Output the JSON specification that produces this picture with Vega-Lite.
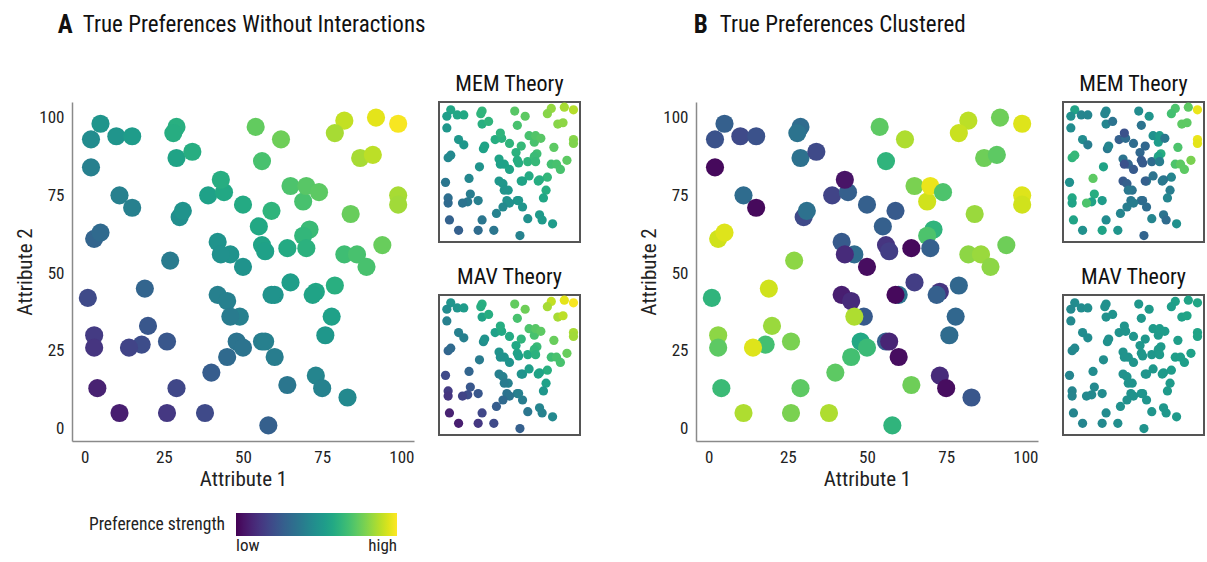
{
  "$schema": "https://vega.github.io/schema/vega-lite/v6.json",
  "background": "white",
  "padding": {"left": 14, "top": 13, "right": 0, "bottom": 0},
  "data": {"values": [
    {"x":5,"y":98,"a":0.52,"b":0.30,"ma":0.59,"va":0.52,"mb":0.58,"vb":0.48},
    {"x":2,"y":93,"a":0.48,"b":0.25,"ma":0.56,"va":0.48,"mb":0.50,"vb":0.47},
    {"x":10,"y":94,"a":0.52,"b":0.22,"ma":0.59,"va":0.52,"mb":0.45,"vb":0.48},
    {"x":15,"y":94,"a":0.55,"b":0.25,"ma":0.60,"va":0.55,"mb":0.45,"vb":0.49},
    {"x":2,"y":84,"a":0.43,"b":0.02,"ma":0.53,"va":0.43,"mb":0.48,"vb":0.47},
    {"x":29,"y":97,"a":0.63,"b":0.35,"ma":0.66,"va":0.63,"mb":0.47,"vb":0.50},
    {"x":28,"y":95,"a":0.62,"b":0.38,"ma":0.65,"va":0.62,"mb":0.45,"vb":0.50},
    {"x":29,"y":87,"a":0.58,"b":0.37,"ma":0.63,"va":0.58,"mb":0.45,"vb":0.50},
    {"x":34,"y":89,"a":0.62,"b":0.22,"ma":0.65,"va":0.62,"mb":0.38,"vb":0.51},
    {"x":54,"y":97,"a":0.76,"b":0.75,"ma":0.74,"va":0.76,"mb":0.48,"vb":0.53},
    {"x":62,"y":93,"a":0.78,"b":0.88,"ma":0.75,"va":0.78,"mb":0.52,"vb":0.54},
    {"x":56,"y":86,"a":0.71,"b":0.65,"ma":0.71,"va":0.71,"mb":0.38,"vb":0.53},
    {"x":82,"y":99,"a":0.91,"b":0.90,"ma":0.84,"va":0.91,"mb":0.72,"vb":0.57},
    {"x":79,"y":95,"a":0.87,"b":0.92,"ma":0.82,"va":0.87,"mb":0.70,"vb":0.56},
    {"x":92,"y":100,"a":0.96,"b":0.78,"ma":0.87,"va":0.96,"mb":0.75,"vb":0.58},
    {"x":99,"y":98,"a":0.99,"b":0.95,"ma":0.89,"va":0.99,"mb":0.97,"vb":0.59},
    {"x":87,"y":87,"a":0.87,"b":0.78,"ma":0.82,"va":0.87,"mb":0.75,"vb":0.57},
    {"x":91,"y":88,"a":0.90,"b":0.75,"ma":0.83,"va":0.90,"mb":0.75,"vb":0.58},
    {"x":99,"y":75,"a":0.87,"b":0.95,"ma":0.82,"va":0.87,"mb":0.97,"vb":0.58},
    {"x":99,"y":72,"a":0.86,"b":0.93,"ma":0.81,"va":0.86,"mb":0.96,"vb":0.58},
    {"x":84,"y":69,"a":0.77,"b":0.85,"ma":0.75,"va":0.77,"mb":0.72,"vb":0.56},
    {"x":94,"y":59,"a":0.77,"b":0.78,"ma":0.75,"va":0.77,"mb":0.80,"vb":0.57},
    {"x":82,"y":56,"a":0.69,"b":0.83,"ma":0.70,"va":0.69,"mb":0.72,"vb":0.56},
    {"x":86,"y":56,"a":0.71,"b":0.85,"ma":0.71,"va":0.71,"mb":0.75,"vb":0.56},
    {"x":89,"y":52,"a":0.71,"b":0.83,"ma":0.71,"va":0.71,"mb":0.75,"vb":0.56},
    {"x":79,"y":46,"a":0.63,"b":0.33,"ma":0.66,"va":0.63,"mb":0.45,"vb":0.55},
    {"x":78,"y":36,"a":0.57,"b":0.33,"ma":0.62,"va":0.57,"mb":0.42,"vb":0.54},
    {"x":76,"y":30,"a":0.53,"b":0.35,"ma":0.59,"va":0.53,"mb":0.45,"vb":0.54},
    {"x":73,"y":44,"a":0.59,"b":0.15,"ma":0.63,"va":0.59,"mb":0.38,"vb":0.54},
    {"x":72,"y":43,"a":0.58,"b":0.30,"ma":0.62,"va":0.58,"mb":0.40,"vb":0.54},
    {"x":73,"y":17,"a":0.45,"b":0.12,"ma":0.54,"va":0.45,"mb":0.38,"vb":0.53},
    {"x":75,"y":13,"a":0.44,"b":0.03,"ma":0.54,"va":0.44,"mb":0.35,"vb":0.53},
    {"x":83,"y":10,"a":0.47,"b":0.27,"ma":0.55,"va":0.47,"mb":0.50,"vb":0.54},
    {"x":64,"y":14,"a":0.39,"b":0.78,"ma":0.50,"va":0.39,"mb":0.45,"vb":0.52},
    {"x":58,"y":1,"a":0.30,"b":0.65,"ma":0.44,"va":0.30,"mb":0.32,"vb":0.51},
    {"x":60,"y":23,"a":0.42,"b":0.03,"ma":0.52,"va":0.42,"mb":0.35,"vb":0.52},
    {"x":56,"y":28,"a":0.42,"b":0.30,"ma":0.52,"va":0.42,"mb":0.40,"vb":0.52},
    {"x":57,"y":28,"a":0.43,"b":0.10,"ma":0.53,"va":0.43,"mb":0.35,"vb":0.52},
    {"x":48,"y":28,"a":0.38,"b":0.60,"ma":0.50,"va":0.38,"mb":0.40,"vb":0.51},
    {"x":50,"y":26,"a":0.38,"b":0.68,"ma":0.50,"va":0.38,"mb":0.42,"vb":0.51},
    {"x":45,"y":23,"a":0.34,"b":0.70,"ma":0.47,"va":0.34,"mb":0.42,"vb":0.50},
    {"x":40,"y":18,"a":0.29,"b":0.75,"ma":0.44,"va":0.29,"mb":0.45,"vb":0.50},
    {"x":38,"y":5,"a":0.22,"b":0.88,"ma":0.39,"va":0.22,"mb":0.52,"vb":0.49},
    {"x":26,"y":5,"a":0.16,"b":0.80,"ma":0.35,"va":0.16,"mb":0.58,"vb":0.47},
    {"x":29,"y":13,"a":0.21,"b":0.75,"ma":0.39,"va":0.21,"mb":0.48,"vb":0.48},
    {"x":26,"y":28,"a":0.27,"b":0.80,"ma":0.43,"va":0.27,"mb":0.55,"vb":0.48},
    {"x":20,"y":33,"a":0.27,"b":0.85,"ma":0.42,"va":0.27,"mb":0.62,"vb":0.47},
    {"x":18,"y":27,"a":0.23,"b":0.70,"ma":0.40,"va":0.23,"mb":0.58,"vb":0.47},
    {"x":14,"y":26,"a":0.20,"b":0.95,"ma":0.38,"va":0.20,"mb":0.72,"vb":0.47},
    {"x":19,"y":45,"a":0.32,"b":0.93,"ma":0.46,"va":0.32,"mb":0.75,"vb":0.48},
    {"x":1,"y":42,"a":0.22,"b":0.65,"ma":0.39,"va":0.22,"mb":0.50,"vb":0.45},
    {"x":3,"y":30,"a":0.17,"b":0.83,"ma":0.36,"va":0.17,"mb":0.60,"vb":0.45},
    {"x":3,"y":26,"a":0.15,"b":0.75,"ma":0.34,"va":0.15,"mb":0.58,"vb":0.45},
    {"x":4,"y":13,"a":0.09,"b":0.68,"ma":0.31,"va":0.09,"mb":0.58,"vb":0.45},
    {"x":11,"y":5,"a":0.08,"b":0.88,"ma":0.30,"va":0.08,"mb":0.50,"vb":0.45},
    {"x":27,"y":54,"a":0.41,"b":0.83,"ma":0.51,"va":0.41,"mb":0.58,"vb":0.49},
    {"x":3,"y":61,"a":0.32,"b":0.93,"ma":0.46,"va":0.32,"mb":0.65,"vb":0.46},
    {"x":5,"y":63,"a":0.34,"b":0.95,"ma":0.47,"va":0.34,"mb":0.67,"vb":0.47},
    {"x":11,"y":75,"a":0.43,"b":0.35,"ma":0.53,"va":0.43,"mb":0.48,"vb":0.48},
    {"x":15,"y":71,"a":0.43,"b":0.02,"ma":0.53,"va":0.43,"mb":0.42,"vb":0.48},
    {"x":30,"y":68,"a":0.49,"b":0.22,"ma":0.57,"va":0.49,"mb":0.40,"vb":0.50},
    {"x":31,"y":70,"a":0.51,"b":0.37,"ma":0.58,"va":0.51,"mb":0.45,"vb":0.50},
    {"x":39,"y":75,"a":0.57,"b":0.20,"ma":0.62,"va":0.57,"mb":0.30,"vb":0.51},
    {"x":44,"y":76,"a":0.60,"b":0.30,"ma":0.64,"va":0.60,"mb":0.35,"vb":0.52},
    {"x":43,"y":80,"a":0.62,"b":0.05,"ma":0.65,"va":0.62,"mb":0.25,"vb":0.52},
    {"x":50,"y":72,"a":0.61,"b":0.30,"ma":0.65,"va":0.61,"mb":0.35,"vb":0.52},
    {"x":59,"y":70,"a":0.65,"b":0.28,"ma":0.67,"va":0.65,"mb":0.33,"vb":0.53},
    {"x":55,"y":65,"a":0.60,"b":0.30,"ma":0.64,"va":0.60,"mb":0.33,"vb":0.53},
    {"x":56,"y":59,"a":0.58,"b":0.15,"ma":0.62,"va":0.58,"mb":0.28,"vb":0.53},
    {"x":57,"y":57,"a":0.57,"b":0.18,"ma":0.62,"va":0.57,"mb":0.28,"vb":0.53},
    {"x":42,"y":60,"a":0.51,"b":0.28,"ma":0.58,"va":0.51,"mb":0.38,"vb":0.51},
    {"x":46,"y":56,"a":0.51,"b":0.35,"ma":0.58,"va":0.51,"mb":0.32,"vb":0.51},
    {"x":43,"y":56,"a":0.50,"b":0.12,"ma":0.57,"va":0.50,"mb":0.25,"vb":0.51},
    {"x":50,"y":52,"a":0.51,"b":0.03,"ma":0.58,"va":0.51,"mb":0.28,"vb":0.52},
    {"x":64,"y":58,"a":0.61,"b":0.02,"ma":0.65,"va":0.61,"mb":0.35,"vb":0.53},
    {"x":65,"y":78,"a":0.72,"b":0.80,"ma":0.71,"va":0.72,"mb":0.50,"vb":0.54},
    {"x":69,"y":73,"a":0.71,"b":0.93,"ma":0.71,"va":0.71,"mb":0.55,"vb":0.54},
    {"x":70,"y":78,"a":0.74,"b":0.97,"ma":0.73,"va":0.74,"mb":0.55,"vb":0.55},
    {"x":74,"y":76,"a":0.75,"b":0.72,"ma":0.74,"va":0.75,"mb":0.40,"vb":0.55},
    {"x":71,"y":64,"a":0.68,"b":0.65,"ma":0.69,"va":0.68,"mb":0.62,"vb":0.54},
    {"x":69,"y":62,"a":0.66,"b":0.72,"ma":0.68,"va":0.66,"mb":0.58,"vb":0.54},
    {"x":70,"y":58,"a":0.64,"b":0.30,"ma":0.67,"va":0.64,"mb":0.42,"vb":0.54},
    {"x":42,"y":43,"a":0.43,"b":0.08,"ma":0.53,"va":0.43,"mb":0.28,"vb":0.50},
    {"x":45,"y":41,"a":0.43,"b":0.12,"ma":0.53,"va":0.43,"mb":0.30,"vb":0.51},
    {"x":49,"y":36,"a":0.43,"b":0.28,"ma":0.53,"va":0.43,"mb":0.38,"vb":0.51},
    {"x":46,"y":36,"a":0.41,"b":0.88,"ma":0.52,"va":0.41,"mb":0.40,"vb":0.51},
    {"x":60,"y":43,"a":0.52,"b":0.38,"ma":0.58,"va":0.52,"mb":0.40,"vb":0.52},
    {"x":59,"y":43,"a":0.51,"b":0.02,"ma":0.58,"va":0.51,"mb":0.30,"vb":0.52},
    {"x":65,"y":47,"a":0.56,"b":0.18,"ma":0.61,"va":0.56,"mb":0.38,"vb":0.53}
  ]},
  "spacing": 57,
  "hconcat": [
    {
      "title": {"text": "A", "fontWeight": "bold", "fontSize": 25, "anchor": "start", "offset": -24, "dx": 43},
      "vconcat": [
        {
          "title": {"text": "True Preferences Without Interactions", "fontSize": 23, "anchor": "start", "dx": 68, "offset": 35},
          "spacing": 24,
          "hconcat": [
            {
              "width": 342, "height": 339,
              "title": {"text": " ", "fontSize": 22},
              "mark": {"type": "circle", "size": 330, "opacity": 1},
              "encoding": {
                "x": {"field": "x", "type": "quantitative", "scale": {"domain": [-4, 104], "nice": false, "zero": false}, "axis": {"values": [0, 25, 50, 75, 100], "title": "Attribute 1"}},
                "y": {"field": "y", "type": "quantitative", "scale": {"domain": [-4, 105], "nice": false, "zero": false}, "axis": {"values": [0, 25, 50, 75, 100], "title": "Attribute 2"}},
                "color": {"field": "a", "type": "quantitative", "scale": {"scheme": "viridis", "domain": [0, 1]}, "legend": {"title": "Preference strength", "values": [0, 1], "labelExpr": "datum.value < 0.5 ? 'low' : 'high'"}}
              }
            },
            {
              "spacing": 22,
              "vconcat": [
                {
                  "width": 141, "height": 140,
                  "title": {"text": "MEM Theory"},
                  "view": {"stroke": "#555", "strokeWidth": 2},
                  "mark": {"type": "circle", "size": 85, "opacity": 1},
                  "encoding": {
                    "x": {"field": "x", "type": "quantitative", "scale": {"domain": [-4, 104], "nice": false, "zero": false}, "axis": null},
                    "y": {"field": "y", "type": "quantitative", "scale": {"domain": [-4, 104], "nice": false, "zero": false}, "axis": null},
                    "color": {"field": "ma", "type": "quantitative", "scale": {"scheme": "viridis", "domain": [0, 1]}, "legend": {"title": "Preference strength", "values": [0, 1], "labelExpr": "datum.value < 0.5 ? 'low' : 'high'"}}
                  }
                },
                {
                  "width": 141, "height": 140,
                  "title": {"text": "MAV Theory"},
                  "view": {"stroke": "#555", "strokeWidth": 2},
                  "mark": {"type": "circle", "size": 85, "opacity": 1},
                  "encoding": {
                    "x": {"field": "x", "type": "quantitative", "scale": {"domain": [-4, 104], "nice": false, "zero": false}, "axis": null},
                    "y": {"field": "y", "type": "quantitative", "scale": {"domain": [-4, 104], "nice": false, "zero": false}, "axis": null},
                    "color": {"field": "va", "type": "quantitative", "scale": {"scheme": "viridis", "domain": [0, 1]}, "legend": {"title": "Preference strength", "values": [0, 1], "labelExpr": "datum.value < 0.5 ? 'low' : 'high'"}}
                  }
                }
              ]
            }
          ]
        }
      ]
    },
    {
      "title": {"text": "B", "fontWeight": "bold", "fontSize": 25, "anchor": "start", "offset": -24, "dx": 55},
      "vconcat": [
        {
          "title": {"text": "True Preferences Clustered", "fontSize": 23, "anchor": "start", "dx": 81, "offset": 35},
          "spacing": 24,
          "hconcat": [
            {
              "width": 342, "height": 339,
              "title": {"text": " ", "fontSize": 22},
              "mark": {"type": "circle", "size": 330, "opacity": 1},
              "encoding": {
                "x": {"field": "x", "type": "quantitative", "scale": {"domain": [-4, 104], "nice": false, "zero": false}, "axis": {"values": [0, 25, 50, 75, 100], "title": "Attribute 1"}},
                "y": {"field": "y", "type": "quantitative", "scale": {"domain": [-4, 105], "nice": false, "zero": false}, "axis": {"values": [0, 25, 50, 75, 100], "title": "Attribute 2"}},
                "color": {"field": "b", "type": "quantitative", "scale": {"scheme": "viridis", "domain": [0, 1]}, "legend": {"title": "Preference strength", "values": [0, 1], "labelExpr": "datum.value < 0.5 ? 'low' : 'high'"}}
              }
            },
            {
              "spacing": 22,
              "vconcat": [
                {
                  "width": 141, "height": 140,
                  "title": {"text": "MEM Theory"},
                  "view": {"stroke": "#555", "strokeWidth": 2},
                  "mark": {"type": "circle", "size": 85, "opacity": 1},
                  "encoding": {
                    "x": {"field": "x", "type": "quantitative", "scale": {"domain": [-4, 104], "nice": false, "zero": false}, "axis": null},
                    "y": {"field": "y", "type": "quantitative", "scale": {"domain": [-4, 104], "nice": false, "zero": false}, "axis": null},
                    "color": {"field": "mb", "type": "quantitative", "scale": {"scheme": "viridis", "domain": [0, 1]}, "legend": {"title": "Preference strength", "values": [0, 1], "labelExpr": "datum.value < 0.5 ? 'low' : 'high'"}}
                  }
                },
                {
                  "width": 141, "height": 140,
                  "title": {"text": "MAV Theory"},
                  "view": {"stroke": "#555", "strokeWidth": 2},
                  "mark": {"type": "circle", "size": 85, "opacity": 1},
                  "encoding": {
                    "x": {"field": "x", "type": "quantitative", "scale": {"domain": [-4, 104], "nice": false, "zero": false}, "axis": null},
                    "y": {"field": "y", "type": "quantitative", "scale": {"domain": [-4, 104], "nice": false, "zero": false}, "axis": null},
                    "color": {"field": "vb", "type": "quantitative", "scale": {"scheme": "viridis", "domain": [0, 1]}, "legend": {"title": "Preference strength", "values": [0, 1], "labelExpr": "datum.value < 0.5 ? 'low' : 'high'"}}
                  }
                }
              ]
            }
          ]
        }
      ]
    }
  ],
  "resolve": {"scale": {"color": "shared"}},
  "config": {
    "font": "Roboto Condensed, Liberation Sans Narrow, Roboto",
    "view": {"stroke": null},
    "title": {"fontSize": 22, "fontWeight": "normal", "color": "#111", "offset": 6},
    "axis": {
      "grid": false,
      "domainColor": "#8a8a8a",
      "domainWidth": 1.5,
      "ticks": false,
      "labelPadding": 8,
      "labelFontSize": 17,
      "labelColor": "#222",
      "titleFontSize": 21,
      "titleFontWeight": "normal",
      "titleColor": "#222",
      "titlePadding": 3
    },
    "legend": {
      "orient": "none",
      "legendX": 17,
      "legendY": 411,
      "direction": "horizontal",
      "titleOrient": "left",
      "titleFontSize": 17.5,
      "titleFontWeight": "normal",
      "titleColor": "#222",
      "titlePadding": 10,
      "gradientLength": 161,
      "gradientThickness": 23,
      "labelFontSize": 17,
      "labelColor": "#222",
      "labelOffset": 7
    }
  }
}
